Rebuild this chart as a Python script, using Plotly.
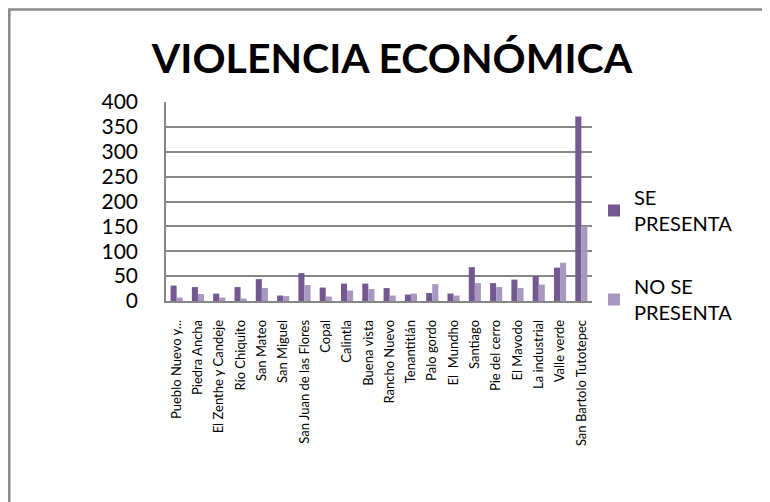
import plotly.graph_objects as go

categories = ["Pueblo Nuevo y...", "Piedra Ancha", "El Zenthe y Candeje", "Río Chiquito",
              "San Mateo", "San Miguel", "San Juan de las Flores", "Copal", "Calintla",
              "Buena vista", "Rancho Nuevo", "Tenantitlán", "Palo gordo", "El  Mundho",
              "Santiago", "Pie del cerro", "El Mavodo", "La industrial", "Valle verde",
              "San Bartolo Tutotepec"]
se_presenta = [31, 28, 15, 28, 44, 11, 56, 27, 35, 35, 26, 13, 16, 15, 68, 36, 43, 50, 67, 371]
no_se_presenta = [7, 14, 7, 5, 26, 10, 32, 9, 21, 24, 11, 15, 34, 11, 36, 28, 26, 33, 77, 150]
y_ticks = [0, 50, 100, 150, 200, 250, 300, 350, 400]

# page body has an 8px margin; figure is sized/offset to compensate
OFF = 8
W, H = 770 - OFF, 502 - OFF
# plot area in screen pixels
L, R, T, B = 166, 592, 102, 301
FONT = "Lato"

def px_x(x):
    return (x - L) / (R - L)

def px_y(y):
    return (B - y) / (B - T)

fig = go.Figure()
fig.add_trace(go.Bar(x=categories, y=se_presenta, name="SE<br>PRESENTA", legendgroup="se",
                     marker=dict(color="#725A91", line=dict(width=0))))
fig.add_trace(go.Bar(x=categories, y=no_se_presenta, name="NO SE<br>PRESENTA", legendgroup="no",
                     marker=dict(color="#A898C0", line=dict(width=0))))

fig.update_layout(
    width=W, height=H,
    margin=dict(l=L - OFF, r=W - (R - OFF), t=T - OFF, b=H - (B - OFF), autoexpand=False),
    paper_bgcolor="white", plot_bgcolor="white",
    barmode="group", bargap=0.43, bargroupgap=0,
    font=dict(family=FONT, color="black"),
    title=dict(text="<b>VIOLENCIA ECONÓMICA</b>", x=(392 - OFF) / W, xanchor="center",
               y=1 - (59 - OFF) / H, yanchor="middle",
               font=dict(size=41, family=FONT, color="black")),
    legend=dict(x=px_x(594), y=px_y(178), xanchor="left", yanchor="top",
                font=dict(size=20, family=FONT), tracegroupgap=34,
                bgcolor="rgba(0,0,0,0)"),
    showlegend=True,
)
fig.update_yaxes(range=[0, 400], tickvals=y_ticks, showline=True, linecolor="#868686",
                 linewidth=1.5, gridcolor="#868686", gridwidth=1.5,
                 tickfont=dict(size=21, family=FONT, color="black"),
                 ticks="", ticklabelstandoff=22, zeroline=False)
fig.update_xaxes(showline=True, linecolor="#868686", linewidth=1.5, tickangle=-90,
                 tickfont=dict(size=13, family=FONT, color="black"), ticks="",
                 ticklabelstandoff=12)

fig.add_shape(type="rect", xref="paper", yref="paper",
              x0=px_x(9.3), y0=px_y(9.5), x1=px_x(900), y1=px_y(700),
              line=dict(color="#898989", width=2.5), fillcolor="rgba(0,0,0,0)", layer="below")

fig.write_html("out.html")
